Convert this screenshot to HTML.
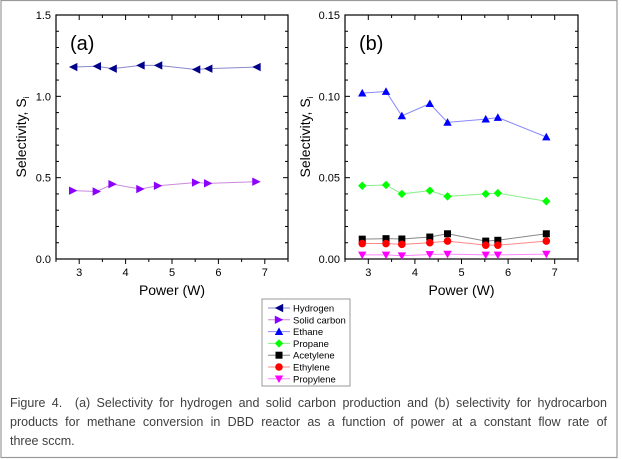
<!DOCTYPE html>
<html><head><meta charset="utf-8"><style>
body{margin:0;background:#fff;width:622px;height:459px;overflow:hidden}
#cap{position:absolute;left:10px;top:394px;width:597px;font:12.5px "Liberation Sans",sans-serif;color:#404040;line-height:19px}
#cap div{text-align:justify;text-align-last:justify;white-space:nowrap}
#cap div.l{text-align-last:left}
</style></head><body>
<svg id="s" width="622" height="459" style="position:absolute;left:0;top:0" font-family="Liberation Sans, sans-serif"></svg>
<div id="cap"><div>Figure 4.&nbsp; (a) Selectivity for hydrogen and solid carbon production and (b) selectivity for hydrocarbon</div><div>products for methane conversion in DBD reactor as a function of power at a constant flow rate of</div><div class="l">three sccm.</div></div>
<script>
const S=document.getElementById('s');let h='';
h+='<rect x="1" y="0.5" width="616" height="457" fill="none" stroke="#999" stroke-width="1.2"/>';
const X=[2.87,3.38,3.72,4.32,4.70,5.52,5.78,6.82];
function mk(t,x,y,c){const r=4.2;
 if(t=='L')return `<polygon points="${x-r},${y} ${x+r},${y-r} ${x+r},${y+r}" fill="${c}"/>`;
 if(t=='R')return `<polygon points="${x+r},${y} ${x-r},${y-r} ${x-r},${y+r}" fill="${c}"/>`;
 if(t=='U')return `<polygon points="${x},${y-r} ${x-r},${y+r*0.8} ${x+r},${y+r*0.8}" fill="${c}"/>`;
 if(t=='D')return `<polygon points="${x},${y+r} ${x-r},${y-r*0.8} ${x+r},${y-r*0.8}" fill="${c}"/>`;
 if(t=='Di')return `<polygon points="${x},${y-r} ${x+r},${y} ${x},${y+r} ${x-r},${y}" fill="${c}"/>`;
 if(t=='S')return `<rect x="${x-3.5}" y="${y-3.5}" width="7" height="7" fill="${c}"/>`;
 return `<circle cx="${x}" cy="${y}" r="3.8" fill="${c}"/>`;}
function plot(x0,x1,ymax,ymaj,ymin,labs,ser,lab,lx){
 const y0=15,y1=259,fx=v=>x0+(v-2.5)/5*(x1-x0),fy=v=>y1-v/ymax*(y1-y0);
 h+=`<rect x="${x0}" y="${y0}" width="${x1-x0}" height="${y1-y0}" fill="none" stroke="#000" stroke-width="1.2"/>`;
 for(let i=0;i<=Math.round(ymax/ymin);i++){const v=i*ymin,y=fy(v),mj=Math.abs(v/ymaj-Math.round(v/ymaj))<1e-6,l=mj?5:3;
  h+=`<line x1="${x0}" x2="${x0+l}" y1="${y}" y2="${y}" stroke="#000"/><line x1="${x1}" x2="${x1-l}" y1="${y}" y2="${y}" stroke="#000"/>`;}
 labs.forEach((t,i)=>h+=`<text x="${x0-5}" y="${fy(i*ymaj)+4}" font-size="11" text-anchor="end">${t}</text>`);
 for(let v=2.5;v<=7.51;v+=0.5){const x=fx(v),mj=Math.abs(v-Math.round(v))<1e-6,l=mj?5:3;
  h+=`<line x1="${x}" x2="${x}" y1="${y1}" y2="${y1+l}" stroke="#000"/><line x1="${x}" x2="${x}" y1="${y0}" y2="${y0+l}" stroke="#000"/>`;
  if(mj&&v>2.9&&v<7.1)h+=`<text x="${x}" y="${y1+17}" font-size="11" text-anchor="middle">${v}</text>`;}
 h+=`<text x="${(x0+x1)/2}" y="295" font-size="14" text-anchor="middle">Power (W)</text>`;
 h+=`<text x="${x0+14}" y="50" font-size="20">${lab}</text>`;
 h+=`<text transform="translate(${lx},${(y0+y1)/2}) rotate(-90)" font-size="14" text-anchor="middle">Selectivity, S<tspan font-size="8" dy="3">i</tspan></text>`;
 ser.forEach(s=>{h+=`<polyline points="${X.map((x,i)=>fx(x)+','+fy(s.d[i])).join(' ')}" fill="none" stroke="${s.lc}" stroke-width="1"/>`;
  X.forEach((x,i)=>h+=mk(s.m,fx(x),fy(s.d[i]),s.c));});}
plot(56,288,1.5,0.5,0.1,['0.0','0.5','1.0','1.5'],[
 {d:[1.18,1.185,1.17,1.19,1.19,1.165,1.17,1.18],m:'L',c:'#00008b',lc:'#8888cc'},
 {d:[.42,.415,.46,.43,.45,.47,.465,.475],m:'R',c:'#8b00ff',lc:'#cc88dd'}],'(a)',26);
plot(345,578,0.15,0.05,0.01,['0.00','0.05','0.10','0.15'],[
 {d:[.102,.103,.088,.0955,.084,.086,.087,.075],m:'U',c:'#0000ff',lc:'#8888ff'},
 {d:[.045,.0455,.04,.042,.0385,.040,.0405,.0355],m:'Di',c:'#00ff00',lc:'#88ee88'},
 {d:[.0122,.0125,.0123,.0135,.0155,.011,.0115,.0155],m:'S',c:'#000',lc:'#888'},
 {d:[.0095,.0095,.009,.010,.011,.0085,.0085,.011],m:'C',c:'#ff0000',lc:'#ff8888'},
 {d:[.0025,.0025,.002,.0028,.003,.0025,.0025,.003],m:'D',c:'#ff00ff',lc:'#ff88ff'}],'(b)',310);
h+='<rect x="262" y="299" width="88" height="87" fill="#fff" stroke="#999"/>';
[['Hydrogen','L','#00008b','#8888cc'],['Solid carbon','R','#8b00ff','#cc88dd'],['Ethane','U','#0000ff','#8888ff'],['Propane','Di','#00ff00','#88ee88'],['Acetylene','S','#000','#888'],['Ethylene','C','#ff0000','#ff8888'],['Propylene','D','#ff00ff','#ff88ff']].forEach((e,i)=>{
 const y=308+i*11.8;h+=`<line x1="268" x2="290" y1="${y}" y2="${y}" stroke="${e[3]}"/>`+mk(e[1],279,y,e[2]).replace(/4\.2/g,'3')+`<text x="293" y="${y+3.5}" font-size="9.5">${e[0]}</text>`;});
S.innerHTML=h;
</script>
</body></html>
